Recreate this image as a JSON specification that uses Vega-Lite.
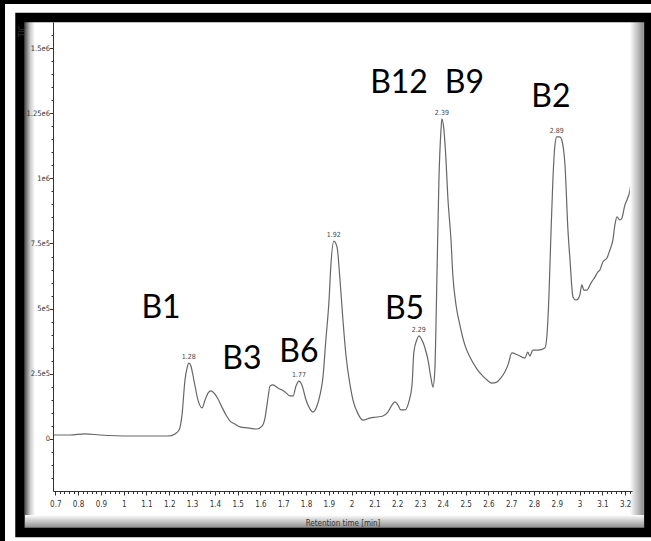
{
  "$schema": "https://vega.github.io/schema/vega-lite/v6.json",
  "width": 579,
  "height": 469,
  "autosize": {"type": "none"},
  "padding": {"left": 53, "top": 22, "right": 19, "bottom": 50},
  "background": "#ffffff",
  "datasets": {
    "one": [{}],
    "trace": [
      {"t":0.694,"v":15000},{"t":0.765,"v":15000},{"t":0.83,"v":19000},{"t":0.896,"v":15000},{"t":1.028,"v":11000},{"t":1.115,"v":11000},{"t":1.194,"v":11000},{"t":1.225,"v":19000},{"t":1.243,"v":34000},{"t":1.256,"v":92000},{"t":1.269,"v":226000},{"t":1.278,"v":272000},{"t":1.286,"v":291000},{"t":1.295,"v":280000},{"t":1.308,"v":226000},{"t":1.326,"v":149000},{"t":1.344,"v":119000},{"t":1.357,"v":149000},{"t":1.37,"v":176000},{"t":1.383,"v":184000},{"t":1.396,"v":176000},{"t":1.414,"v":153000},{"t":1.431,"v":122000},{"t":1.449,"v":92000},{"t":1.466,"v":69000},{"t":1.488,"v":57000},{"t":1.51,"v":46000},{"t":1.545,"v":42000},{"t":1.585,"v":38000},{"t":1.607,"v":49000},{"t":1.62,"v":80000},{"t":1.633,"v":157000},{"t":1.642,"v":203000},{"t":1.655,"v":207000},{"t":1.677,"v":195000},{"t":1.708,"v":180000},{"t":1.729,"v":165000},{"t":1.743,"v":165000},{"t":1.756,"v":203000},{"t":1.769,"v":222000},{"t":1.782,"v":207000},{"t":1.8,"v":149000},{"t":1.817,"v":115000},{"t":1.83,"v":103000},{"t":1.848,"v":126000},{"t":1.861,"v":168000},{"t":1.874,"v":234000},{"t":1.887,"v":380000},{"t":1.901,"v":533000},{"t":1.909,"v":667000},{"t":1.922,"v":759000},{"t":1.936,"v":736000},{"t":1.949,"v":610000},{"t":1.962,"v":456000},{"t":1.975,"v":322000},{"t":1.993,"v":207000},{"t":2.006,"v":149000},{"t":2.028,"v":96000},{"t":2.05,"v":72000},{"t":2.08,"v":80000},{"t":2.111,"v":84000},{"t":2.137,"v":88000},{"t":2.159,"v":103000},{"t":2.177,"v":130000},{"t":2.19,"v":142000},{"t":2.203,"v":130000},{"t":2.216,"v":111000},{"t":2.234,"v":111000},{"t":2.251,"v":142000},{"t":2.265,"v":207000},{"t":2.273,"v":333000},{"t":2.287,"v":383000},{"t":2.295,"v":395000},{"t":2.308,"v":380000},{"t":2.322,"v":349000},{"t":2.335,"v":303000},{"t":2.348,"v":234000},{"t":2.357,"v":199000},{"t":2.365,"v":264000},{"t":2.374,"v":610000},{"t":2.383,"v":994000},{"t":2.392,"v":1185000},{"t":2.396,"v":1228000},{"t":2.405,"v":1185000},{"t":2.414,"v":1070000},{"t":2.422,"v":928000},{"t":2.436,"v":763000},{"t":2.444,"v":629000},{"t":2.458,"v":514000},{"t":2.475,"v":437000},{"t":2.497,"v":360000},{"t":2.519,"v":314000},{"t":2.55,"v":268000},{"t":2.576,"v":241000},{"t":2.594,"v":226000},{"t":2.615,"v":214000},{"t":2.637,"v":218000},{"t":2.655,"v":234000},{"t":2.672,"v":257000},{"t":2.686,"v":284000},{"t":2.703,"v":330000},{"t":2.729,"v":322000},{"t":2.76,"v":310000},{"t":2.773,"v":333000},{"t":2.782,"v":318000},{"t":2.795,"v":341000},{"t":2.817,"v":341000},{"t":2.848,"v":349000},{"t":2.857,"v":399000},{"t":2.865,"v":533000},{"t":2.874,"v":775000},{"t":2.883,"v":994000},{"t":2.892,"v":1128000},{"t":2.9,"v":1159000},{"t":2.914,"v":1159000},{"t":2.922,"v":1147000},{"t":2.936,"v":1051000},{"t":2.949,"v":802000},{"t":2.958,"v":687000},{"t":2.971,"v":545000},{"t":2.984,"v":533000},{"t":2.993,"v":537000},{"t":3.001,"v":552000},{"t":3.01,"v":591000},{"t":3.019,"v":571000},{"t":3.032,"v":571000},{"t":3.05,"v":598000},{"t":3.067,"v":621000},{"t":3.08,"v":640000},{"t":3.089,"v":648000},{"t":3.102,"v":679000},{"t":3.12,"v":694000},{"t":3.133,"v":725000},{"t":3.146,"v":763000},{"t":3.155,"v":821000},{"t":3.164,"v":852000},{"t":3.177,"v":840000},{"t":3.186,"v":848000},{"t":3.199,"v":898000},{"t":3.208,"v":917000},{"t":3.221,"v":955000},{"t":3.228,"v":1001000}
    ],
    "peaks": [
      {"t":1.286,"v":291000,"label":"1.28"},
      {"t":1.769,"v":222000,"label":"1.77"},
      {"t":1.922,"v":759000,"label":"1.92"},
      {"t":2.295,"v":395000,"label":"2.29"},
      {"t":2.396,"v":1228000,"label":"2.39"},
      {"t":2.9,"v":1159000,"label":"2.89"}
    ],
    "names": [
      {"t":1.164,"v":464000,"name":"B1"},
      {"t":1.519,"v":268000,"name":"B3"},
      {"t":1.769,"v":295000,"name":"B6"},
      {"t":2.232,"v":460000,"name":"B5"},
      {"t":2.208,"v":1327500,"name":"B12"},
      {"t":2.495,"v":1327500,"name":"B9"},
      {"t":2.874,"v":1273800,"name":"B2"}
    ]
  },
  "layer": [
    {
      "data": {"name": "trace"},
      "mark": {"type": "line", "color": "#666666", "strokeWidth": 1.2, "interpolate": "monotone"},
      "encoding": {
        "x": {
          "field": "t", "type": "quantitative",
          "scale": {"domain": [0.69, 3.23], "nice": false, "zero": false},
          "axis": {
            "title": "Retention time [min]",
            "tickCount": 1000,
            "values": [0.7,0.72,0.74,0.76,0.78,0.8,0.82,0.84,0.86,0.88,0.9,0.92,0.94,0.96,0.98,1,1.02,1.04,1.06,1.08,1.1,1.12,1.14,1.16,1.18,1.2,1.22,1.24,1.26,1.28,1.3,1.32,1.34,1.36,1.38,1.4,1.42,1.44,1.46,1.48,1.5,1.52,1.54,1.56,1.58,1.6,1.62,1.64,1.66,1.68,1.7,1.72,1.74,1.76,1.78,1.8,1.82,1.84,1.86,1.88,1.9,1.92,1.94,1.96,1.98,2,2.02,2.04,2.06,2.08,2.1,2.12,2.14,2.16,2.18,2.2,2.22,2.24,2.26,2.28,2.3,2.32,2.34,2.36,2.38,2.4,2.42,2.44,2.46,2.48,2.5,2.52,2.54,2.56,2.58,2.6,2.62,2.64,2.66,2.68,2.7,2.72,2.74,2.76,2.78,2.8,2.82,2.84,2.86,2.88,2.9,2.92,2.94,2.96,2.98,3,3.02,3.04,3.06,3.08,3.1,3.12,3.14,3.16,3.18,3.2,3.22],
            "labelExpr": "abs(datum.value*10 - round(datum.value*10)) < 0.001 ? format(datum.value, '~g') : ''",
            "tickSize": {"condition": {"test": "abs(datum.value*10 - round(datum.value*10)) < 0.001", "value": 4}, "value": 2.5},
            "labelPadding": 5,
            "labelOverlap": false,
            "labelFlush": false,
            "labelBound": false,
            "titlePadding": 11,
            "zindex": 1
          }
        },
        "y": {
          "field": "v", "type": "quantitative",
          "scale": {"domain": [-200000, 1600000], "nice": false, "zero": false},
          "axis": {
            "title": "TIC",
            "titleX": -27,
            "titleY": 3,
            "titleAngle": -90,
            "titleAlign": "right",
            "titleBaseline": "bottom",
            "tickCount": 1000,
            "values": [-150000,-100000,-50000,0,50000,100000,150000,200000,250000,300000,350000,400000,450000,500000,550000,600000,650000,700000,750000,800000,850000,900000,950000,1000000,1050000,1100000,1150000,1200000,1250000,1300000,1350000,1400000,1450000,1500000,1550000],
            "labelExpr": "datum.value == 0 ? '0' : datum.value == 250000 ? '2.5e5' : datum.value == 500000 ? '5e5' : datum.value == 750000 ? '7.5e5' : datum.value == 1000000 ? '1e6' : datum.value == 1250000 ? '1.25e6' : datum.value == 1500000 ? '1.5e6' : ''",
            "tickSize": {"condition": {"test": "datum.value % 250000 == 0", "value": 3.5}, "value": 2},
            "labelPadding": 0,
            "labelFontSize": 7.5,
            "labelOverlap": false,
            "labelFlush": false,
            "labelBound": false,
            "zindex": 1
          }
        }
      }
    },
    {
      "data": {"name": "one"},
      "mark": {"type": "rect", "fill": {"gradient": "linear", "x1": 0, "x2": 1, "y1": 0, "y2": 0, "stops": [{"offset": 0, "color": "#555555"}, {"offset": 0.5, "color": "#c8c8c8"}, {"offset": 1, "color": "#ffffff"}]}},
      "encoding": {
        "x": {"datum": 0.5672, "type": "quantitative"},
        "x2": {"datum": 0.6111},
        "y": {"datum": 1600000, "type": "quantitative"},
        "y2": {"datum": -342028}
      }
    },
    {
      "data": {"name": "one"},
      "mark": {"type": "rect", "fill": {"gradient": "linear", "x1": 0, "x2": 1, "y1": 0, "y2": 0, "stops": [{"offset": 0, "color": "#ffffff"}, {"offset": 1, "color": "#8a8a8a"}]}},
      "encoding": {
        "x": {"datum": 3.2207, "type": "quantitative"},
        "x2": {"datum": 3.2821},
        "y": {"datum": 1600000, "type": "quantitative"},
        "y2": {"datum": -342028}
      }
    },
    {
      "data": {"name": "one"},
      "mark": {"type": "rect", "fill": {"gradient": "linear", "x1": 0, "x2": 0, "y1": 0, "y2": 1, "stops": [{"offset": 0, "color": "#ffffff"}, {"offset": 1, "color": "#8a8a8a"}]}},
      "encoding": {
        "x": {"datum": 0.5672, "type": "quantitative"},
        "x2": {"datum": 3.2821},
        "y": {"datum": -292134, "type": "quantitative"},
        "y2": {"datum": -342028}
      }
    },
    {
      "data": {"name": "one"},
      "mark": {"type": "rect", "filled": false, "stroke": "#000000", "strokeWidth": 9.5},
      "encoding": {
        "x": {"datum": 0.5453, "type": "quantitative"},
        "x2": {"datum": 3.304},
        "y": {"datum": 1617271, "type": "quantitative"},
        "y2": {"datum": -359299}
      }
    },
    {
      "data": {"name": "one"},
      "mark": {"type": "rect", "filled": false, "stroke": "#000000", "strokeWidth": 5},
      "encoding": {
        "x": {"datum": 0.4685, "type": "quantitative"},
        "x2": {"datum": 3.528},
        "y": {"datum": 1678679, "type": "quantitative"},
        "y2": {"datum": -618364}
      }
    },
    {
      "data": {"name": "peaks"},
      "mark": {"type": "text", "baseline": "alphabetic", "align": "center", "dy": -4, "fontSize": 7, "font": "Liberation Sans Narrow, DejaVu Sans Condensed, sans-serif", "color": "#444444"},
      "encoding": {
        "x": {"field": "t", "type": "quantitative"},
        "y": {"field": "v", "type": "quantitative"},
        "text": {"field": "label"}
      }
    },
    {
      "data": {"name": "names"},
      "mark": {"type": "text", "baseline": "alphabetic", "align": "center", "fontSize": 32, "font": "Lato", "color": "#000000"},
      "encoding": {
        "x": {"field": "t", "type": "quantitative"},
        "y": {"field": "v", "type": "quantitative"},
        "text": {"field": "name"}
      }
    }
  ],
  "config": {
    "view": {"stroke": null},
    "axis": {
      "grid": false,
      "domainColor": "#333333",
      "tickColor": "#333333",
      "labelColor": "#333333",
      "titleColor": "#333333",
      "labelFont": "Liberation Sans Narrow, DejaVu Sans Condensed, sans-serif",
      "titleFont": "Liberation Sans Narrow, DejaVu Sans Condensed, sans-serif",
      "labelFontSize": 8,
      "titleFontSize": 8,
      "titleFontWeight": "normal"
    }
  }
}
